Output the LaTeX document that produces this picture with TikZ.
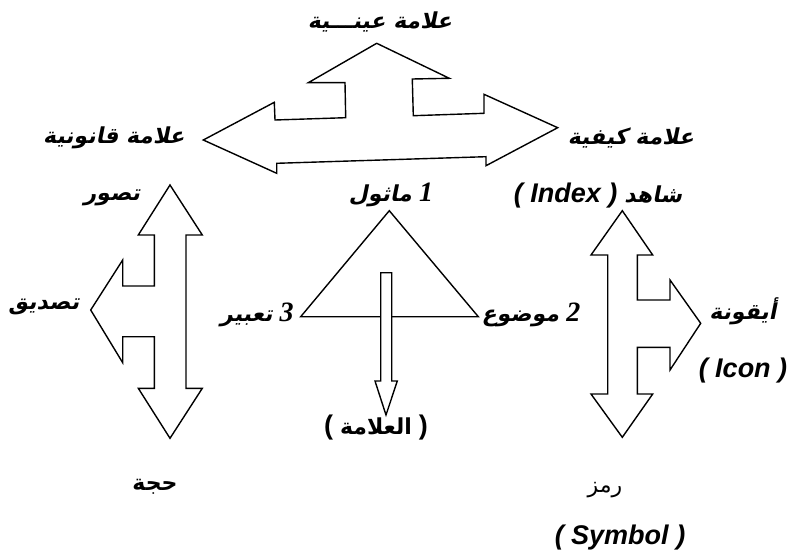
\documentclass[tikz,border=0pt]{standalone}
\usepackage{fontspec}
\TeXXeTstate=1
\newfontfamily\arfont[Script=Arabic]{DejaVu Sans}
\newfontfamily\arslfont[Script=Arabic,FakeSlant=0.2]{DejaVu Sans}
\newfontfamily\latfont{Liberation Sans}
\newfontfamily\numfont{Liberation Serif}
\newcommand{\ar}[1]{{\arslfont\bfseries\beginR #1\endR}}
\newcommand{\num}[1]{{\numfont\bfseries\itshape\fontsize{28}{32}\selectfont #1}}
\newcommand{\lat}[1]{{\latfont\bfseries\itshape\fontsize{27}{32}\selectfont #1}}
\newcommand{\gap}{\hspace{7pt}}
\begin{document}
\begin{tikzpicture}[x=1pt,y=-1pt,
  blockarrow/.style={draw=black,fill=white,line width=1.4pt,line join=miter},
  lbl/.style={inner sep=0pt,font=\fontsize{22}{26}\selectfont}]
\path[use as bounding box,fill=white] (0,0) rectangle (793,559);

% three-headed arrow at the top (left, right, up)
\draw[blockarrow] (376.7,43.3) -- (449.3,78.3) -- (412.3,79) -- (413.3,115.7)
  -- (484,113.3) -- (484,94.3) -- (557.7,127.7) -- (486,165.7) -- (486,156.7)
  -- (276.7,163.3) -- (276.7,173.3) -- (203.3,140) -- (274.3,102.3) -- (275,120)
  -- (345.7,117.7) -- (345,82.7) -- (308.3,82.7) -- cycle;

% left arrow: up, down and a branch to the left
\draw[blockarrow] (170,185) -- (202.3,235) -- (186,235) -- (186,388.3)
  -- (202.3,388.3) -- (170,438.3) -- (138.3,388.3) -- (154.3,388.3)
  -- (154.3,336.7) -- (122.7,336.7) -- (122.7,362.7) -- (90.7,310)
  -- (122.7,260) -- (122.7,286) -- (154.3,286) -- (154.3,235)
  -- (138.3,235) -- cycle;

% right arrow: up, down and a branch to the right
\draw[blockarrow] (622.3,210.7) -- (652.7,255) -- (637.3,255) -- (637.3,300)
  -- (670,300) -- (670,280) -- (700.7,323.3) -- (670,370) -- (670,347.3)
  -- (637.3,347.3) -- (637.3,394) -- (652.7,394) -- (622.3,437.3)
  -- (591,394) -- (607.7,394) -- (607.7,255) -- (591,255) -- cycle;

% triangle of the sign
\coordinate (apex) at (389.3,210.7);
\coordinate (vleft) at (300.7,316.7);
\coordinate (vright) at (478.3,316.7);
\draw[line width=1.4pt] (apex) -- (vright) -- (vleft) -- cycle;

% arrow from inside the triangle down to the sign
\draw[blockarrow] (380.7,272.7) -- (391.7,272.7) -- (391.7,381) -- (397.3,381)
  -- (386,415) -- (375,381) -- (380.7,381) -- cycle;

% labels
\node[lbl] (tTop) at (380,22) {\ar{علامة عينـــية}};
\node[lbl] (tLeft) at (114,138) {\ar{علامة قانونية}};
\node[lbl] (tRight) at (631,138) {\ar{علامة كيفية}};
\node[lbl] (tTasawwur) at (112,198) {\ar{تصور}};
\node[lbl] (tTasdiq) at (44,307) {\ar{تصديق}};
\node[lbl] (tHujja) at (155,487) {{\arfont\bfseries حجة}};

\node[lbl] (tMathul) at (391,195) {\ar{ماثول}\gap\num{1}};
\node[lbl] (tTabir) at (257,315) {\ar{تعبير}\gap\num{3}};
\node[lbl] (tMawdu) at (531,315) {\ar{موضوع}\gap\num{2}};
\node[lbl] (tSign) at (376,428) {{\latfont\bfseries\fontsize{27}{32}\selectfont (}\gap{\arfont\bfseries العلامة}\gap{\latfont\bfseries\fontsize{27}{32}\selectfont )}};

\node[lbl] (tShahid) at (598,196) {\lat{( Index )}\gap\ar{شاهد}};
\node[lbl] (tIcon) at (743,311) {\ar{أيقونة}};
\node[lbl] (tIconEn) at (743,371) {\lat{( Icon )}};
\node[lbl] (tRamz) at (605,490) {{\arfont رمز}};
\node[lbl] (tSymbol) at (620,538) {\lat{( Symbol )}};
\end{tikzpicture}
\end{document}
